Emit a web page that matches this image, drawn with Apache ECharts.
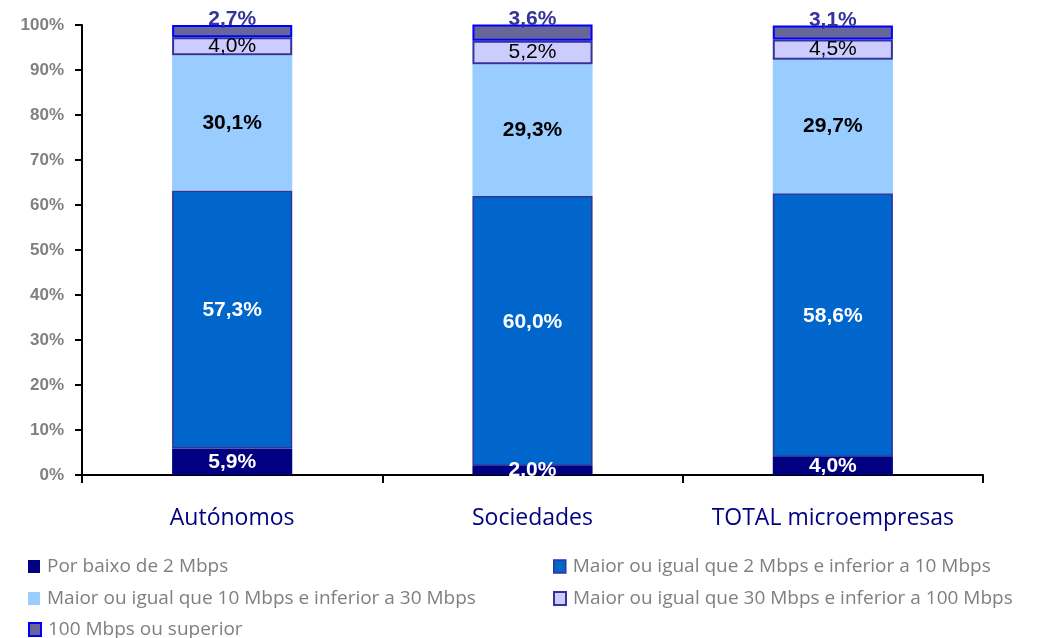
<!DOCTYPE html>
<html><head><meta charset="utf-8">
<script src="https://cdn.jsdelivr.net/npm/echarts@6/dist/echarts.min.js"></script>
<style>html,body{margin:0;padding:0;background:#fff}#c{width:1046px;height:638px}</style>
</head><body><div id="c"></div>
<script>
const categories = ['Autónomos', 'Sociedades', 'TOTAL microempresas'];
const seriesNames = ['Por baixo de 2 Mbps', 'Maior ou igual que 2 Mbps e inferior a 10 Mbps', 'Maior ou igual que 10 Mbps e inferior a 30 Mbps', 'Maior ou igual que 30 Mbps e inferior a 100 Mbps', '100 Mbps ou superior'];
const below2 = [5.9, 2.0, 4.0];
const from2to10 = [57.3, 60.0, 58.6];
const from10to30 = [30.1, 29.3, 29.7];
const from30to100 = [4.0, 5.2, 4.5];
const over100 = [2.7, 3.6, 3.1];
const yTicks = [0, 10, 20, 30, 40, 50, 60, 70, 80, 90, 100];

const fmt = p => p.value.toFixed(1).replace('.', ',') + '%';
const lblFont = 'Liberation Sans';
const chart = echarts.init(document.getElementById('c'));
const styles = [
  {color: '#000080', borderColor: '#000080', borderWidth: 0, label: {show: true, position: 'inside', color: '#fff', fontWeight: 'bold', fontSize: 21, fontFamily: lblFont}},
  {color: '#0066CC', borderColor: '#333399', borderWidth: 1.5, label: {show: true, position: 'inside', color: '#fff', fontWeight: 'bold', fontSize: 21, fontFamily: lblFont, offset: [0, -9]}},
  {color: '#99CCFF', borderColor: '#99CCFF', borderWidth: 0, label: {show: true, position: 'inside', color: '#000', fontWeight: 'bold', fontSize: 21, fontFamily: lblFont}},
  {color: '#CCCCFF', borderColor: '#333399', borderWidth: 2, label: {show: true, position: 'inside', color: '#000', fontWeight: 'normal', fontSize: 21, fontFamily: lblFont}},
  {color: '#666699', borderColor: '#0000FF', borderWidth: 2, label: {show: true, position: 'top', distance: 0, offset: [0, 5], color: '#333399', fontWeight: 'bold', fontSize: 21, fontFamily: lblFont}}
];
const dataArr = [below2, from2to10, from10to30, from30to100, over100];
const series = dataArr.map((d, i) => ({
  name: seriesNames[i], type: 'bar', stack: 'total', barWidth: '40%', data: d,
  itemStyle: {color: styles[i].color, borderColor: styles[i].borderColor, borderWidth: styles[i].borderWidth},
  label: Object.assign({formatter: fmt}, styles[i].label),
  emphasis: {disabled: true}
}));
const legendPos = [[28, 557], [553, 557], [28, 589], [553, 589], [28, 620]];
const legends = seriesNames.map((n, i) => ({
  data: [{name: n, itemStyle: {color: styles[i].color, borderColor: styles[i].borderColor, borderWidth: styles[i].borderWidth}}],
  left: legendPos[i][0], top: legendPos[i][1], itemWidth: 12, itemHeight: 13, itemGap: 4,
  selectedMode: false, icon: 'rect', padding: 0,
  textStyle: {color: '#7f7f7f', fontSize: 19, fontFamily: 'Open Sans', padding: [0, 0, 0, 2]}
}));
chart.setOption({
  animation: false,
  grid: {left: 82, right: 63, top: 25, bottom: 163},
  legend: legends,
  xAxis: {
    type: 'category', data: categories,
    axisLine: {lineStyle: {color: '#000', width: 2}},
    axisTick: {show: true, length: 8, interval: 0, lineStyle: {color: '#000', width: 2}},
    axisLabel: {interval: 0, color: '#000080', fontSize: 23, fontFamily: 'Open Sans', margin: 32}
  },
  yAxis: {
    type: 'value', min: 0, max: 100, interval: 10,
    axisLine: {show: true, lineStyle: {color: '#000', width: 2}},
    axisTick: {show: true, length: 7, lineStyle: {color: '#000', width: 2}},
    splitLine: {show: false},
    axisLabel: {color: '#808080', fontWeight: 'bold', fontSize: 17, fontFamily: lblFont, margin: 18,
      formatter: v => yTicks.includes(v) ? v + '%' : ''}
  },
  series: series
});
</script></body></html>
